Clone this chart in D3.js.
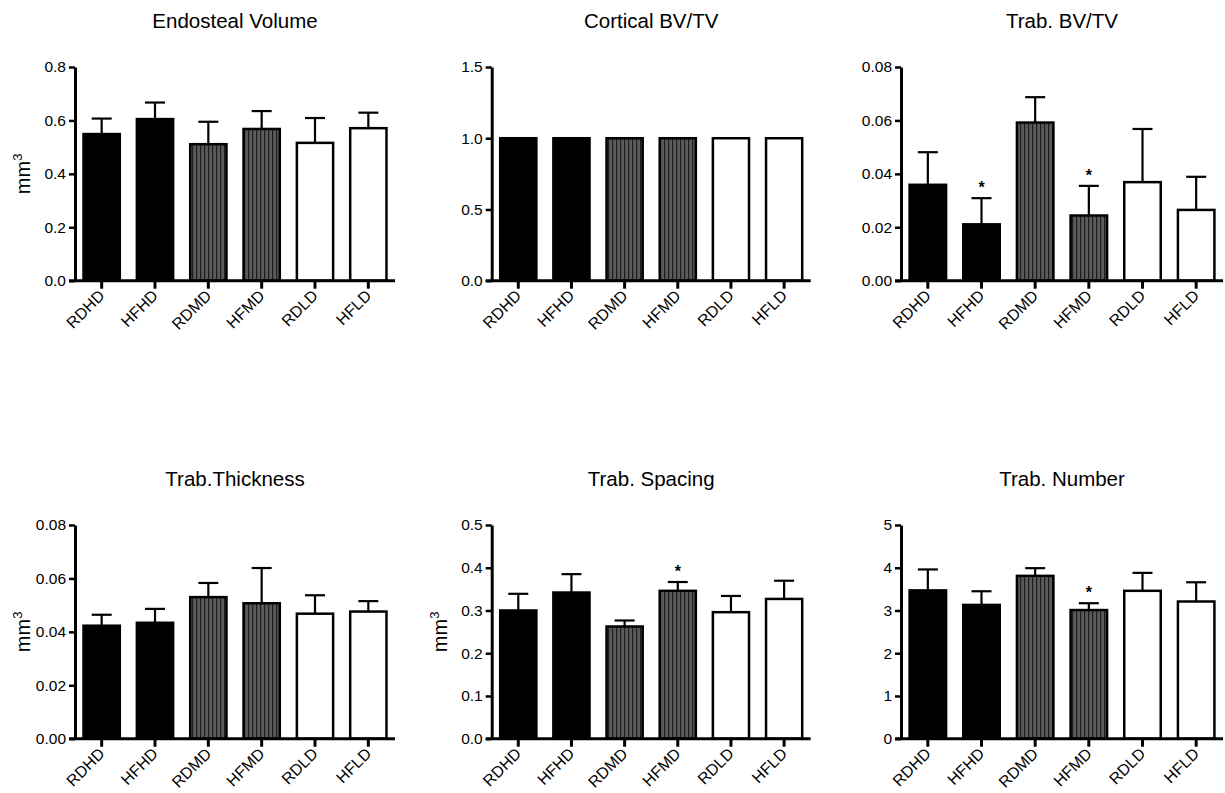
<!DOCTYPE html>
<html>
<head>
<meta charset="utf-8">
<script src="https://cdn.jsdelivr.net/npm/d3@7"></script>
<style>
  html, body { margin: 0; padding: 0; background: #fff; }
  svg { display: block; }
  text { font-family: "Liberation Sans", Arial, Helvetica, sans-serif; fill: #000; }
</style>
</head>
<body>
<svg id="chart" width="1225" height="793"></svg>
<script>
// Diet groups shown on every panel
const groups = ["RDHD", "HFHD", "RDMD", "HFMD", "RDLD", "HFLD"];
// Bar fill style per group: solid black, striped grey, open white
const groupFill = ["solid", "solid", "striped", "striped", "open", "open"];

// Panel titles
const titles = ["Endosteal Volume", "Cortical BV/TV", "Trab. BV/TV",
                "Trab.Thickness", "Trab. Spacing", "Trab. Number"];

// Means and SEM per panel
const endostealMean = [0.549, 0.605, 0.511, 0.568, 0.516, 0.571];
const endostealSem  = [0.058, 0.062, 0.084, 0.067, 0.093, 0.058];

const corticalMean = [1.0, 1.0, 1.0, 1.0, 1.0, 1.0];
const corticalSem  = [0, 0, 0, 0, 0, 0];

const trabBvtvMean = [0.0359, 0.0211, 0.0592, 0.0244, 0.0369, 0.0265];
const trabBvtvSem  = [0.0122, 0.0098, 0.0095, 0.0111, 0.0199, 0.0124];

const thicknessMean = [0.0423, 0.0434, 0.0530, 0.0507, 0.0468, 0.0476];
const thicknessSem  = [0.0041, 0.0052, 0.0053, 0.0132, 0.0069, 0.0039];

const spacingMean = [0.300, 0.342, 0.2625, 0.346, 0.296, 0.327];
const spacingSem  = [0.039, 0.043, 0.0141, 0.0206, 0.038, 0.0426];

const numberMean = [3.47, 3.13, 3.81, 3.01, 3.46, 3.21];
const numberSem  = [0.49, 0.32, 0.18, 0.16, 0.42, 0.45];

// Significance markers (true = "*")
const trabBvtvSig  = [false, true, false, true, false, false];
const spacingSig   = [false, false, false, true, false, false];
const numberSig    = [false, false, false, true, false, false];
const noSig        = [false, false, false, false, false, false];

// Y tick values per panel
const endostealTicks = [0, 0.2, 0.4, 0.6, 0.8];
const corticalTicks  = [0, 0.5, 1.0, 1.5];
const trabBvtvTicks  = [0, 0.02, 0.04, 0.06, 0.08];
const thicknessTicks = [0, 0.02, 0.04, 0.06, 0.08];
const spacingTicks   = [0, 0.1, 0.2, 0.3, 0.4, 0.5];
const numberTicks    = [0, 1, 2, 3, 4, 5];

const yUnit = "mm";

const panels = [
  { title: titles[0], mean: endostealMean, sem: endostealSem, sig: noSig, ticks: endostealTicks, fmt: ".1f", unit: true },
  { title: titles[1], mean: corticalMean, sem: corticalSem, sig: noSig, ticks: corticalTicks, fmt: ".1f", unit: false },
  { title: titles[2], mean: trabBvtvMean, sem: trabBvtvSem, sig: trabBvtvSig, ticks: trabBvtvTicks, fmt: ".2f", unit: false },
  { title: titles[3], mean: thicknessMean, sem: thicknessSem, sig: noSig, ticks: thicknessTicks, fmt: ".2f", unit: true },
  { title: titles[4], mean: spacingMean, sem: spacingSem, sig: spacingSig, ticks: spacingTicks, fmt: ".1f", unit: true },
  { title: titles[5], mean: numberMean, sem: numberSem, sig: numberSig, ticks: numberTicks, fmt: "d", unit: false }
];

// Layout of the 3x2 grid
const colX = [[75, 395], [491.7, 810.7], [901, 1223]];
const rowY = [[67, 280.7], [525, 738.7]];

const svg = d3.select("#chart");
svg.append("rect").attr("width", 1225).attr("height", 793).attr("fill", "#fff");

// Vertical stripe pattern for the mid-dose bars
const defs = svg.append("defs");
const pat = defs.append("pattern")
  .attr("id", "stripes")
  .attr("patternUnits", "userSpaceOnUse")
  .attr("width", 4).attr("height", 10);
pat.append("rect").attr("width", 4).attr("height", 10).attr("fill", "#5a5a5a");
pat.append("rect").attr("x", 0).attr("width", 1.2).attr("height", 10).attr("fill", "#1e1e1e");

const fillFor = s => s === "solid" ? "#000" : s === "striped" ? "url(#stripes)" : "#fff";

panels.forEach((p, i) => {
  const [x0, x1] = colX[i % 3];
  const [yTop, yBot] = rowY[Math.floor(i / 3)];
  const g = svg.append("g");

  const x = d3.scaleBand().domain(groups).range([x0, x1])
    .paddingInner(0.32).paddingOuter(0.16);
  const y = d3.scaleLinear()
    .domain([p.ticks[0], p.ticks[p.ticks.length - 1]])
    .range([yBot, yTop]);

  const rows = groups.map((k, j) => ({
    key: k, mean: p.mean[j], sem: p.sem[j], sig: p.sig[j], fill: groupFill[j]
  }));

  // Error bars (upper only), drawn beneath the bars
  const capHalf = 10;
  const eb = g.append("g").attr("stroke", "#000").attr("stroke-width", 2.2).attr("fill", "none");
  rows.filter(d => d.sem > 0).forEach(d => {
    const cx = x(d.key) + x.bandwidth() / 2;
    eb.append("line").attr("x1", cx).attr("x2", cx)
      .attr("y1", y(d.mean)).attr("y2", y(d.mean + d.sem));
    eb.append("line").attr("x1", cx - capHalf).attr("x2", cx + capHalf)
      .attr("y1", y(d.mean + d.sem)).attr("y2", y(d.mean + d.sem));
  });

  // Bars
  g.append("g").selectAll("rect").data(rows).join("rect")
    .attr("x", d => x(d.key))
    .attr("width", x.bandwidth())
    .attr("y", d => y(d.mean))
    .attr("height", d => y(0) - y(d.mean))
    .attr("fill", d => fillFor(d.fill))
    .attr("stroke", "#000")
    .attr("stroke-width", 2.5);

  // Significance asterisks
  g.append("g").selectAll("text").data(rows.filter(d => d.sig)).join("text")
    .attr("x", d => x(d.key) + x.bandwidth() / 2)
    .attr("y", d => y(d.mean + d.sem) - 5)
    .attr("text-anchor", "middle")
    .attr("font-size", 16)
    .attr("font-weight", "bold")
    .text("*");

  // Y axis
  const yAxis = g.append("g")
    .attr("transform", `translate(${x0},0)`)
    .call(d3.axisLeft(y).tickValues(p.ticks).tickFormat(d3.format(p.fmt))
      .tickSize(6).tickSizeOuter(0).tickPadding(3));
  yAxis.select(".domain").attr("stroke-width", 3);
  yAxis.selectAll(".tick line").attr("stroke-width", 2.5);
  yAxis.selectAll(".tick text").attr("font-size", 15.5)
    .style("font-family", '"Liberation Sans", Arial, sans-serif');

  // X axis
  const xAxis = g.append("g")
    .attr("transform", `translate(0,${yBot})`)
    .call(d3.axisBottom(x).tickSize(8).tickSizeOuter(0).tickFormat(""));
  xAxis.select(".domain").attr("stroke-width", 3).attr("d", `M${x0 - 6},0H${x1}`);
  xAxis.selectAll(".tick line").attr("stroke-width", 3);

  // Rotated category labels
  g.append("g").selectAll("text").data(groups).join("text")
    .attr("transform", d => `translate(${x(d) + x.bandwidth() / 2 + 4},${yBot + 16}) rotate(-45)`)
    .attr("text-anchor", "end")
    .attr("font-size", 16)
    .text(d => d);

  // Panel title
  g.append("text")
    .attr("x", (x0 + x1) / 2)
    .attr("y", yTop - 39)
    .attr("text-anchor", "middle")
    .attr("font-size", 20.5)
    .text(p.title);

  // Y unit label
  if (p.unit) {
    const t = g.append("text")
      .attr("transform", `translate(${x0 - 45},${(yTop + yBot) / 2}) rotate(-90)`)
      .attr("text-anchor", "middle")
      .attr("font-size", 20);
    t.append("tspan").text(yUnit);
    t.append("tspan").attr("dy", -8).attr("font-size", 13).text("3");
  }
});
</script>
</body>
</html>
